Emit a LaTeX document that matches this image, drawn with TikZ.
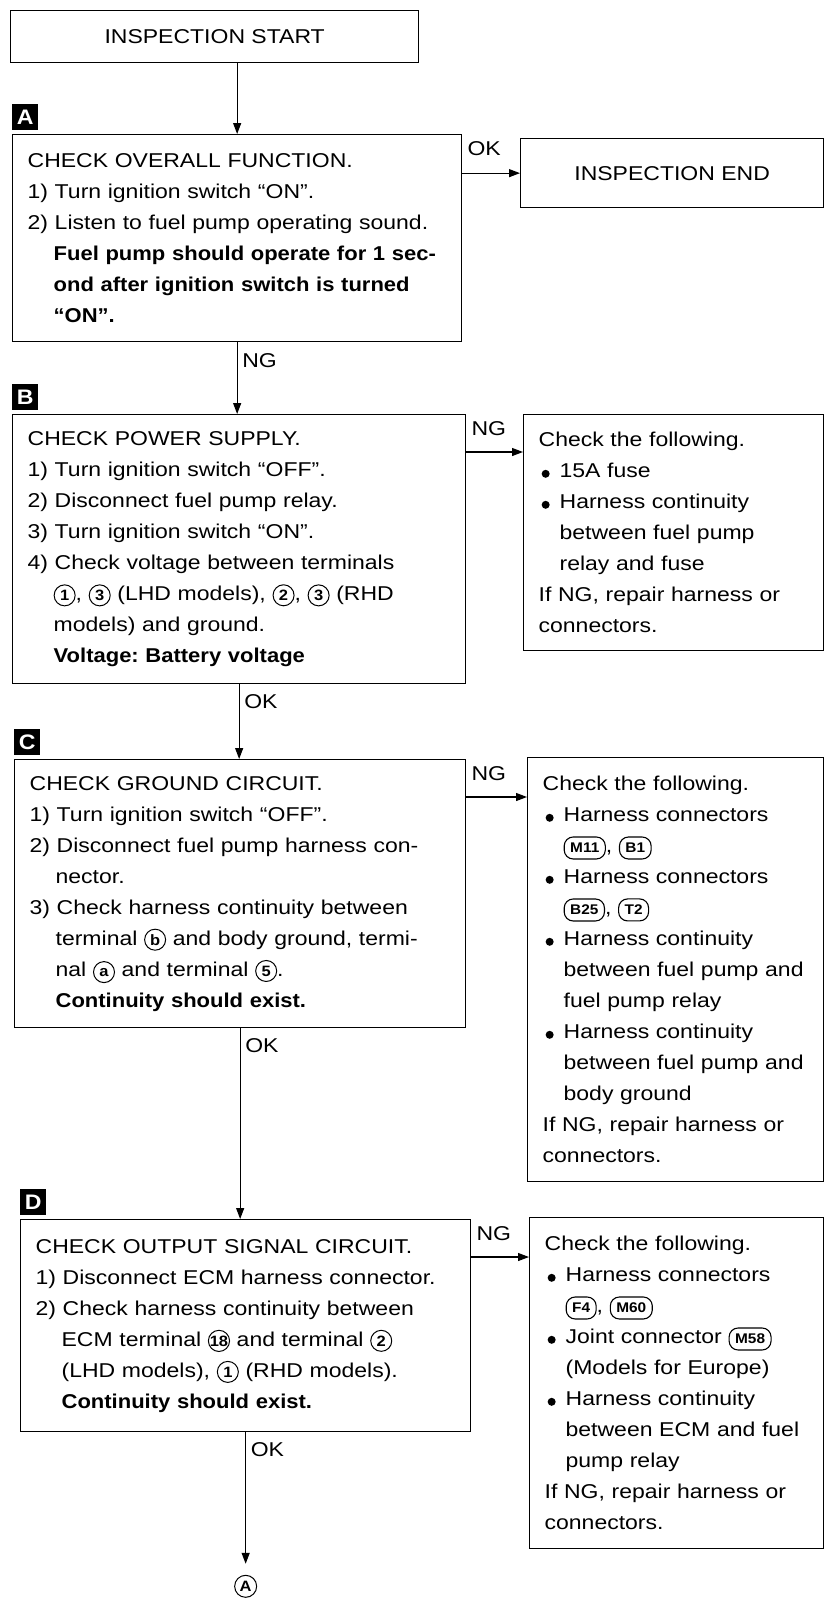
\documentclass[tikz,border=0pt]{standalone}
\usepackage{fontspec}
\setmainfont{Liberation Sans}[FakeStretch=1.15, BoldFeatures={FakeStretch=1.1}]
\usetikzlibrary{arrows.meta,positioning,calc}
\frenchspacing

% indents and inline marks
\newcommand{\stepind}{\hspace*{26pt}}
\newcommand{\itemind}{\hspace*{21pt}}
\newcommand{\itembul}{\makebox[21pt][l]{\hspace{3pt}\tikz\fill (0,0) circle (4pt);}}
\newcommand{\tnum}[1]{\tikz[baseline=(t.base)]\node[draw, circle, line width=1pt, inner sep=0pt,
  minimum size=21pt, text width={}, align=center, font=\fontsize{15}{15}\selectfont\bfseries] (t) {#1};}
\newcommand{\hconn}[1]{\tikz[baseline=(c.base)]\node[draw, rounded corners=9pt, line width=1.1pt,
  inner xsep=6pt, inner ysep=0pt, minimum height=22pt, minimum width=0pt, text width={}, align=center,
  font=\fontsize{14}{14}\selectfont\bfseries] (c) {#1};}

\tikzset{
  stepbox/.style={draw, line width=1.3pt, anchor=north west, inner xsep=15pt, inner ysep=0pt,
    align=left, font=\fontsize{20}{31}\selectfont},
  termbox/.style={draw, line width=1.3pt, anchor=north west, inner sep=0pt,
    font=\fontsize{20}{20}\selectfont},
  tag/.style={fill=black, text=white, font=\fontsize{21}{21}\selectfont\bfseries,
    minimum size=26pt, inner sep=0pt, anchor=south west},
  lbl/.style={font=\fontsize{20}{20}\selectfont, inner sep=2pt, anchor=west},
  flow/.style={line width=1.2pt, -{Triangle[length=11pt,width=8pt]}}
}

\begin{document}
\begin{tikzpicture}[x=1pt, y=-1pt]
  \useasboundingbox (0,0) rectangle (826,1598);

  % left column
  \node[termbox, minimum width=408pt, minimum height=52pt] (start) at (10,10) {INSPECTION START};

  \node[stepbox, text width=419pt, minimum height=207pt] (boxA) at (12,134) {
    CHECK OVERALL FUNCTION.\\
    1) Turn ignition switch ``ON''.\\
    2) Listen to fuel pump operating sound.\\
    \stepind\textbf{Fuel pump should operate for 1 sec-}\\
    \stepind\textbf{ond after ignition switch is turned}\\
    \stepind\textbf{``ON''.}};

  \node[stepbox, text width=423pt, minimum height=269pt] (boxB) at (12,414) {
    CHECK POWER SUPPLY.\\
    1) Turn ignition switch ``OFF''.\\
    2) Disconnect fuel pump relay.\\
    3) Turn ignition switch ``ON''.\\
    4) Check voltage between terminals\\
    \stepind\tnum{1}, \tnum{3} (LHD models), \tnum{2}, \tnum{3} (RHD\\
    \stepind models) and ground.\\
    \stepind\textbf{Voltage: Battery voltage}};

  \node[stepbox, text width=421pt, minimum height=268pt] (boxC) at (14,759) {
    CHECK GROUND CIRCUIT.\\
    1) Turn ignition switch ``OFF''.\\
    2) Disconnect fuel pump harness con-\\
    \stepind nector.\\
    3) Check harness continuity between\\
    \stepind terminal \tnum{b} and body ground, termi-\\
    \stepind nal \tnum{a} and terminal \tnum{5}.\\
    \stepind\textbf{Continuity should exist.}};

  \node[stepbox, text width=420pt, minimum height=212pt] (boxD) at (20,1219) {
    CHECK OUTPUT SIGNAL CIRCUIT.\\
    1) Disconnect ECM harness connector.\\
    2) Check harness continuity between\\
    \stepind ECM terminal \tnum{18} and terminal \tnum{2}\\
    \stepind (LHD models), \tnum{1} (RHD models).\\
    \stepind\textbf{Continuity should exist.}};

  \node[draw, circle, line width=1pt, inner sep=0pt, minimum size=22pt,
    font=\fontsize{15}{15}\selectfont\bfseries] (toA) at ([yshift=-154pt]boxD.south) {A};

  % step tags
  \node[tag] (tagA) at ([yshift=4pt]boxA.north west) {A};
  \node[tag] (tagB) at ([yshift=4pt]boxB.north west) {B};
  \node[tag] (tagC) at ([yshift=4pt]boxC.north west) {C};
  \node[tag] (tagD) at ([yshift=4pt]boxD.north west) {D};

  % right column
  \node[termbox, minimum width=303pt, minimum height=69pt] (endbox) at (520,138) {INSPECTION END};

  \node[stepbox, text width=270pt, minimum height=236pt] (fixB) at (523,414) {
    Check the following.\\
    \itembul 15A fuse\\
    \itembul Harness continuity\\
    \itemind between fuel pump\\
    \itemind relay and fuse\\
    If NG, repair harness or\\
    connectors.};

  \node[stepbox, text width=266pt, minimum height=424pt] (fixC) at (527,757) {
    Check the following.\\
    \itembul Harness connectors\\
    \itemind\hconn{M11}, \hconn{B1}\\
    \itembul Harness connectors\\
    \itemind\hconn{B25}, \hconn{T2}\\
    \itembul Harness continuity\\
    \itemind between fuel pump and\\
    \itemind fuel pump relay\\
    \itembul Harness continuity\\
    \itemind between fuel pump and\\
    \itemind body ground\\
    If NG, repair harness or\\
    connectors.};

  \node[stepbox, text width=264pt, minimum height=331pt] (fixD) at (529,1217) {
    Check the following.\\
    \itembul Harness connectors\\
    \itemind\hconn{F4}, \hconn{M60}\\
    \itembul Joint connector \hconn{M58}\\
    \itemind (Models for Europe)\\
    \itembul Harness continuity\\
    \itemind between ECM and fuel\\
    \itemind pump relay\\
    If NG, repair harness or\\
    connectors.};

  % connectors
  \draw[flow] (boxA.north |- start.south) -- (boxA.north);
  \draw[flow] (boxA.south) -- (boxA.south |- boxB.north);
  \draw[flow] (boxB.south) -- (boxB.south |- boxC.north);
  \draw[flow] (boxC.south) -- (boxC.south |- boxD.north);
  \draw[flow, shorten >=11pt] (boxD.south) -- (toA.north);

  \draw[flow] (boxA.east |- endbox.west) -- (endbox.west);
  \coordinate (outB) at ([yshift=-38pt]boxB.north east);
  \coordinate (outC) at ([yshift=-38pt]boxC.north east);
  \coordinate (outD) at ([yshift=-38pt]boxD.north east);
  \draw[flow] (outB) -- (outB -| fixB.west);
  \draw[flow] (outC) -- (outC -| fixC.west);
  \draw[flow] (outD) -- (outD -| fixD.west);

  % branch labels
  \node[lbl] (okA) at ([xshift=3pt,yshift=-15pt]boxA.north east) {OK};
  \node[lbl] (ngB) at ([xshift=3pt,yshift=-15pt]boxB.north east) {NG};
  \node[lbl] (ngC) at ([xshift=3pt,yshift=-15pt]boxC.north east) {NG};
  \node[lbl] (ngD) at ([xshift=3pt,yshift=-15pt]boxD.north east) {NG};
  \node[lbl] (ngA) at ([xshift=3pt,yshift=-18pt]boxA.south) {NG};
  \node[lbl] (okB) at ([xshift=3pt,yshift=-17pt]boxB.south) {OK};
  \node[lbl] (okC) at ([xshift=3pt,yshift=-17pt]boxC.south) {OK};
  \node[lbl] (okD) at ([xshift=3pt,yshift=-17pt]boxD.south) {OK};
\end{tikzpicture}
\end{document}
